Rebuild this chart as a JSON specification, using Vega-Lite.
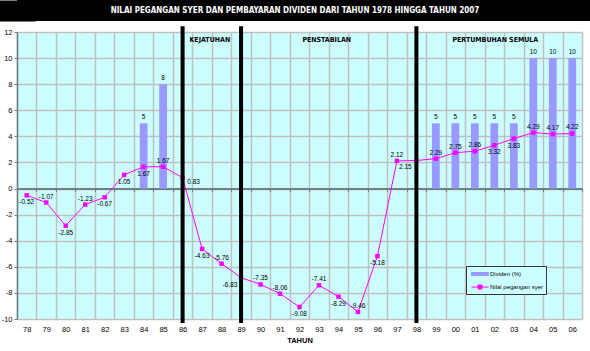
{
  "$schema": "https://vega.github.io/schema/vega-lite/v6.json",
  "padding": 0,
  "background": "white",
  "spacing": 3,
  "config": {
    "locale": {"number": {"decimal": ".", "thousands": ",", "grouping": [3], "currency": ["$", ""], "minus": "-"}},
    "axisY": {"tickCount": 11, "labelOverlap": false, "grid": true, "gridColor": "#C0C0C0", "gridWidth": 1.5, "domainColor": "#6E7F80", "domainWidth": 1.5, "tickColor": "#6E7F80", "tickSize": 3, "labelFont": "Liberation Sans", "labelFontSize": 7.5, "labelColor": "black", "labelPadding": 2, "minExtent": 17, "maxExtent": 17}
  },
  "datasets": {
    "tajuk": [{"t": "NILAI PEGANGAN SYER DAN PEMBAYARAN DIVIDEN DARI TAHUN 1978 HINGGA TAHUN 2007"}],
    "syer": [
      {"yr": "78", "val": -0.52}, {"yr": "79", "val": -1.07}, {"yr": "80", "val": -2.85},
      {"yr": "81", "val": -1.23}, {"yr": "82", "val": -0.67}, {"yr": "83", "val": 1.05},
      {"yr": "84", "val": 1.67}, {"yr": "85", "val": 1.67}, {"yr": "86", "val": 0.83},
      {"yr": "87", "val": -4.63}, {"yr": "88", "val": -5.76}, {"yr": "89", "val": -6.83},
      {"yr": "90", "val": -7.35}, {"yr": "91", "val": -8.06}, {"yr": "92", "val": -9.08},
      {"yr": "93", "val": -7.41}, {"yr": "94", "val": -8.29}, {"yr": "95", "val": -9.46},
      {"yr": "96", "val": -5.18}, {"yr": "97", "val": 2.12}, {"yr": "98", "val": 2.15},
      {"yr": "99", "val": 2.29}, {"yr": "00", "val": 2.75}, {"yr": "01", "val": 2.86},
      {"yr": "02", "val": 3.32}, {"yr": "03", "val": 3.83}, {"yr": "04", "val": 4.29},
      {"yr": "05", "val": 4.17}, {"yr": "06", "val": 4.22}
    ],
    "dividen": [
      {"yr": "84", "val": 5}, {"yr": "85", "val": 8}, {"yr": "99", "val": 5},
      {"yr": "00", "val": 5}, {"yr": "01", "val": 5}, {"yr": "02", "val": 5},
      {"yr": "03", "val": 5}, {"yr": "04", "val": 10}, {"yr": "05", "val": 10},
      {"yr": "06", "val": 10}
    ],
    "pemisah": [{"yr": "86"}, {"yr": "89"}, {"yr": "98"}],
    "fasa": [
      {"yr": "88", "label": "KEJATUHAN"},
      {"yr": "94", "label": "PENSTABILAN"},
      {"yr": "02", "label": "PERTUMBUHAN SEMULA"}
    ]
  },
  "vconcat": [
    {
      "width": 573,
      "height": 21,
      "view": {"fill": "black", "stroke": null},
      "data": {"name": "tajuk"},
      "mark": {"type": "text", "color": "white", "font": "Liberation Sans Narrow, DejaVu Sans Condensed, Liberation Sans", "fontWeight": "bold", "fontSize": 8, "baseline": "middle", "align": "center", "dx": -8.5},
      "encoding": {
        "text": {"field": "t"},
        "y": {"datum": 0, "type": "quantitative", "scale": {"domain": [-1, 1]},
          "axis": {"title": null, "labels": false, "ticks": false, "grid": false, "domain": true, "domainColor": "black", "domainWidth": 36, "minExtent": 0, "maxExtent": 0}}
      }
    },
    {
      "width": 565,
      "height": 287,
      "view": {"fill": "#CCFFFF", "stroke": null},
      "resolve": {"scale": {"x": "shared", "y": "shared", "color": "shared"}, "axis": {"x": "independent"}},
      "layer": [
        {
          "data": {"name": "dividen"},
          "mark": {"type": "bar", "width": {"band": 0.4}},
          "encoding": {
            "x": {
              "field": "yr", "type": "nominal",
              "scale": {"type": "band", "domain": ["78","79","80","81","82","83","84","85","86","87","88","89","90","91","92","93","94","95","96","97","98","99","00","01","02","03","04","05","06"], "paddingInner": 0, "paddingOuter": 0},
              "axis": {"title": "TAHUN", "titleFont": "Liberation Sans", "titleFontSize": 7.5, "titleFontWeight": "bold", "titleColor": "black", "titlePadding": 4, "labelFont": "Liberation Sans", "labelFontSize": 7.5, "labelColor": "black", "labelPadding": 6, "labelAngle": 0, "ticks": false, "domain": false, "grid": true, "gridColor": "#C0C0C0", "gridWidth": 1.5, "tickBand": "extent"}
            },
            "y": {
              "field": "val", "type": "quantitative", "title": null,
              "scale": {"domain": [-10, 12], "nice": false, "zero": false}
            },
            "y2": {"datum": 0},
            "color": {
              "datum": "Dividen (%)", "type": "nominal",
              "scale": {"domain": ["Dividen (%)", "Nilai pegangan syer"], "range": ["#9999FF", "#FF00FF"]},
              "legend": {
                "title": null, "orient": "none", "legendX": 449, "legendY": 266,
                "padding": 2.5, "strokeColor": "#333333", "fillColor": "#CCFFFF",
                "labelFont": "Liberation Sans", "labelFontSize": 6, "labelColor": "black",
                "symbolSize": 100, "rowPadding": 4, "labelOffset": 10.5,
                "encode": {
                  "symbols": {
                    "update": {
                      "shape": {"signal": "datum.value === 'Dividen (%)' ? 'M-0.5,-0.3H2.9V0.3H-0.5Z' : 'M-0.5,0H2.9M0.8,-0.4H1.6V0.4H0.8Z'"},
                      "fill": {"signal": "datum.value === 'Dividen (%)' ? '#9999FF' : '#FF00FF'"},
                      "stroke": {"signal": "datum.value === 'Dividen (%)' ? '#9999FF' : '#FF00FF'"},
                      "strokeWidth": {"value": 1},
                      "opacity": {"value": 1},
                      "fillOpacity": {"value": 1}
                    }
                  }
                }
              }
            }
          }
        },
        {
          "data": {"name": "dividen"},
          "mark": {"type": "text", "font": "Liberation Sans", "fontSize": 6.5, "color": "black", "dy": -6},
          "encoding": {
            "x": {"field": "yr", "type": "nominal", "bandPosition": 0.5, "axis": null},
            "y": {"field": "val", "type": "quantitative", "title": null},
            "text": {"field": "val", "type": "quantitative", "format": "d"}
          }
        },
        {
          "data": {"name": "syer"},
          "mark": {"type": "line", "strokeWidth": 1},
          "encoding": {
            "x": {"field": "yr", "type": "nominal", "bandPosition": 0.5,
              "axis": {"orient": "bottom", "offset": -130.5, "labels": false, "title": null, "grid": false, "domain": true, "domainColor": "#6E7F80", "domainWidth": 2, "ticks": true, "tickColor": "#6E7F80", "tickSize": 3, "tickWidth": 1, "tickBand": "extent"}},
            "y": {"field": "val", "type": "quantitative", "title": null},
            "color": {"datum": "Nilai pegangan syer", "type": "nominal"}
          }
        },
        {
          "data": {"name": "syer"},
          "mark": {"type": "point", "shape": "square", "filled": true, "size": 20, "opacity": 1},
          "encoding": {
            "x": {"field": "yr", "type": "nominal", "bandPosition": 0.5, "axis": null},
            "y": {"field": "val", "type": "quantitative", "title": null},
            "color": {"datum": "Nilai pegangan syer", "type": "nominal"}
          }
        },
        {
          "data": {"name": "syer"},
          "transform": [{"filter": {"field": "yr", "oneOf": ["79","81","85","88","90","91","93","95","97","99","00","01","04","05","06"]}}],
          "mark": {"type": "text", "font": "Liberation Sans", "fontSize": 6.5, "color": "black", "dy": -6},
          "encoding": {
            "x": {"field": "yr", "type": "nominal", "bandPosition": 0.5, "axis": null},
            "y": {"field": "val", "type": "quantitative", "title": null},
            "text": {"field": "val", "type": "quantitative", "format": ".2f"}
          }
        },
        {
          "data": {"name": "syer"},
          "transform": [{"filter": {"field": "yr", "oneOf": ["78","80","82","83","84","87","92","94","96","02","03"]}}],
          "mark": {"type": "text", "font": "Liberation Sans", "fontSize": 6.5, "color": "black", "dy": 7},
          "encoding": {
            "x": {"field": "yr", "type": "nominal", "bandPosition": 0.5, "axis": null},
            "y": {"field": "val", "type": "quantitative", "title": null},
            "text": {"field": "val", "type": "quantitative", "format": ".2f"}
          }
        },
        {
          "data": {"name": "syer"},
          "transform": [{"filter": {"field": "yr", "oneOf": ["89","98"]}}],
          "mark": {"type": "text", "font": "Liberation Sans", "fontSize": 6.5, "color": "black", "dy": 7, "dx": -11},
          "encoding": {
            "x": {"field": "yr", "type": "nominal", "bandPosition": 0.5, "axis": null},
            "y": {"field": "val", "type": "quantitative", "title": null},
            "text": {"field": "val", "type": "quantitative", "format": ".2f"}
          }
        },
        {
          "data": {"name": "syer"},
          "transform": [{"filter": {"field": "yr", "oneOf": ["86"]}}],
          "mark": {"type": "text", "font": "Liberation Sans", "fontSize": 6.5, "color": "black", "dy": 4, "dx": 11},
          "encoding": {
            "x": {"field": "yr", "type": "nominal", "bandPosition": 0.5, "axis": null},
            "y": {"field": "val", "type": "quantitative", "title": null},
            "text": {"field": "val", "type": "quantitative", "format": ".2f"}
          }
        },
        {
          "data": {"name": "pemisah"},
          "mark": {"type": "rule", "color": "black", "strokeWidth": 4},
          "encoding": {
            "x": {"field": "yr", "type": "nominal", "bandPosition": 0.5, "axis": null},
            "y": {"datum": 12.45, "title": null},
            "y2": {"datum": -10.3}
          }
        },
        {
          "data": {"name": "fasa"},
          "transform": [{"filter": {"field": "yr", "oneOf": ["88","94"]}}],
          "mark": {"type": "text", "font": "Liberation Sans Narrow, DejaVu Sans Condensed, Liberation Sans", "fontWeight": "bold", "fontSize": 7, "color": "black", "dx": -2},
          "encoding": {
            "x": {"field": "yr", "type": "nominal", "bandPosition": 0, "axis": null},
            "y": {"datum": 11.4, "title": null},
            "text": {"field": "label"}
          }
        },
        {
          "data": {"name": "fasa"},
          "transform": [{"filter": {"field": "yr", "oneOf": ["02"]}}],
          "mark": {"type": "text", "font": "Liberation Sans Narrow, DejaVu Sans Condensed, Liberation Sans", "fontWeight": "bold", "fontSize": 7, "color": "black", "dx": 1},
          "encoding": {
            "x": {"field": "yr", "type": "nominal", "bandPosition": 0.5, "axis": null},
            "y": {"datum": 11.4, "title": null},
            "text": {"field": "label"}
          }
        }
      ]
    }
  ]
}
